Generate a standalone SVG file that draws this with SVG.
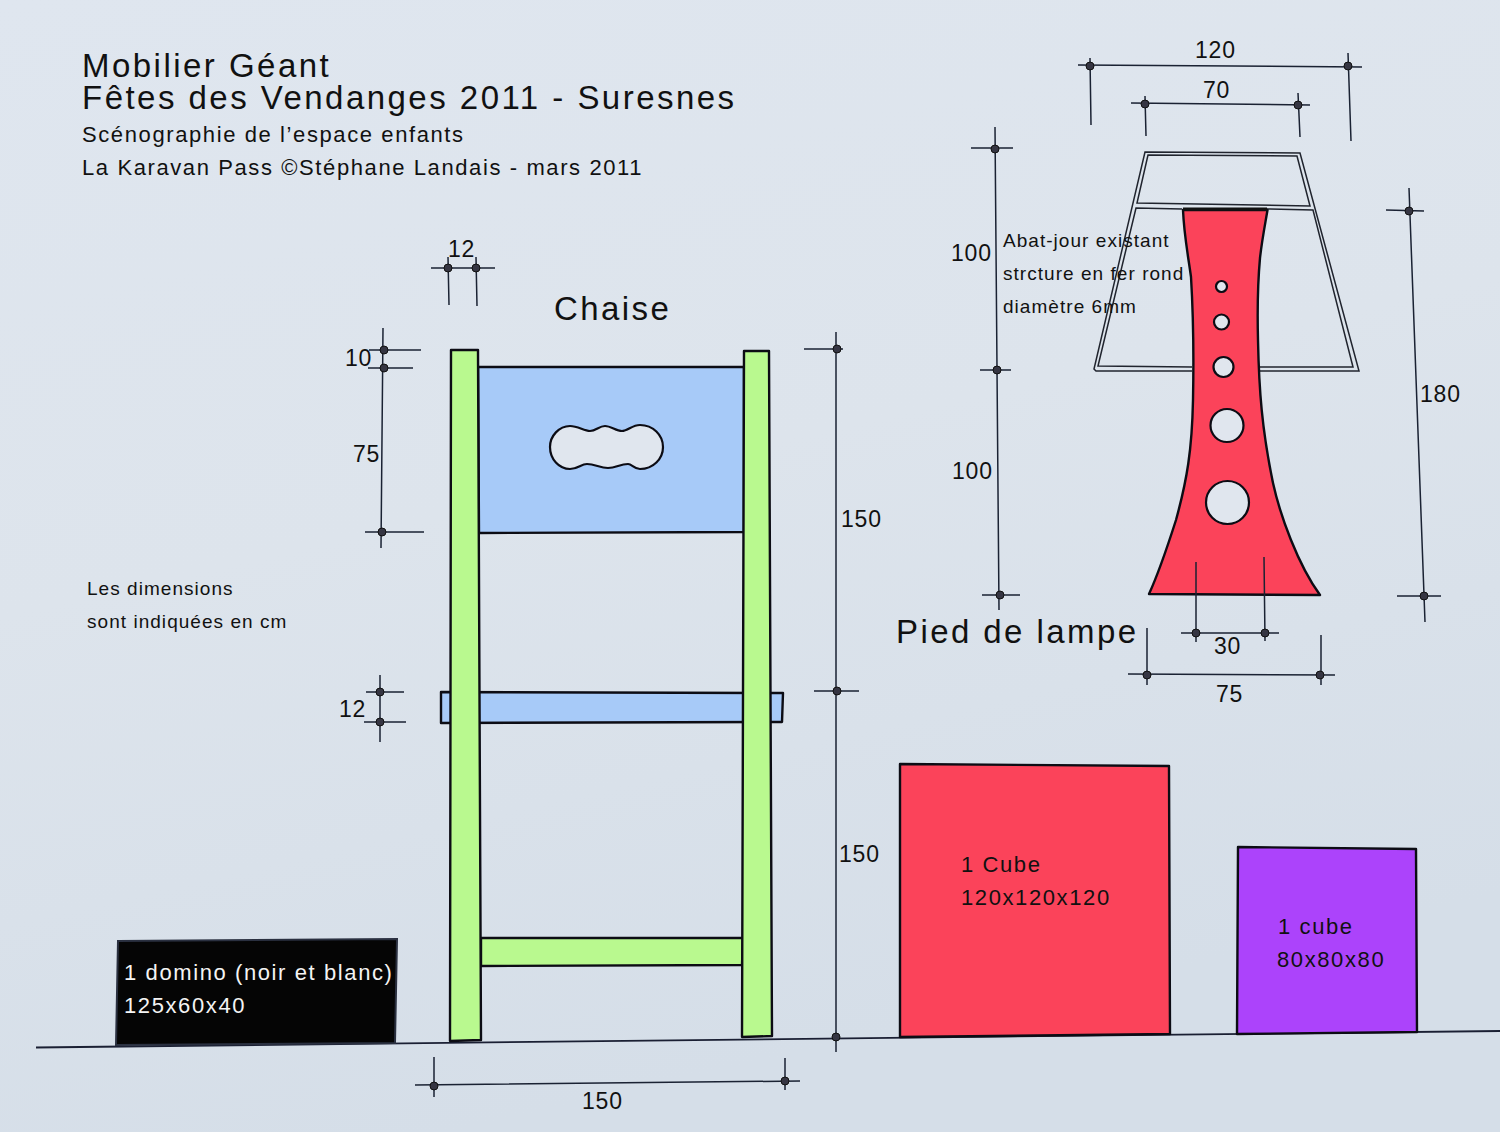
<svg xmlns="http://www.w3.org/2000/svg" width="1500" height="1132" viewBox="0 0 1500 1132">
<style>
text{font-family:"Liberation Sans",Arial,sans-serif;fill:#111}
.t1{font-size:33px;letter-spacing:2.47px}
.t2{font-size:22px;letter-spacing:1.6px}
.t3{font-size:19px;letter-spacing:1.04px}
.d{font-size:23px;letter-spacing:.8px}
.big{font-size:33px;letter-spacing:2.42px}
.c{font-size:22px;letter-spacing:1.6px}
.w{fill:#f4f4f4}
.dim{fill:none;stroke:#1a2233;stroke-width:1.5}
.dot{fill:#353542;stroke:#111;stroke-width:1}
.out{stroke:#0c0c14;stroke-width:2.4;stroke-linejoin:round}
.green{fill:#b9f98f}
.blue{fill:#a7caf8}
.red{fill:#fb435a}
.hole{fill:#e0e6ee;stroke:#0c0c14;stroke-width:2.2}
.wire{fill:none;stroke:#20242e;stroke-width:1.5}
</style>
<defs>
<linearGradient id="bg" x1="0" y1="0" x2="0.3" y2="1">
<stop offset="0" stop-color="#dfe6ef"/>
<stop offset="0.5" stop-color="#dde4ec"/>
<stop offset="1" stop-color="#d5dee8"/>
</linearGradient>
<circle id="p" class="dot" r="4"/>
</defs>
<rect width="1500" height="1132" fill="url(#bg)"/>

<g id="title">
<text class="t1" x="82" y="77">Mobilier Géant</text>
<text class="t1" x="82" y="109">Fêtes des Vendanges 2011 - Suresnes</text>
<text class="t2" x="82" y="142">Scénographie de l’espace enfants</text>
<text class="t2" x="82" y="175">La Karavan Pass ©Stéphane Landais - mars 2011</text>
</g>
<g id="note">
<text class="t3" x="87" y="595">Les dimensions</text>
<text class="t3" x="87" y="628">sont indiquées en cm</text>
</g>

<g id="ground"><path d="M36 1047.500L1500 1031" fill="none" stroke="#1a1f33" stroke-width="1.800"/></g>

<g id="domino">
<path d="M118 941L397 939L395 1043L116 1045Z" fill="#050505" stroke="#2a3040" stroke-width="2"/>
<text class="c w" x="124" y="980">1 domino (noir et blanc)</text>
<text class="c w" x="124" y="1013">125x60x40</text>
</g>

<g id="chaise">
<text class="big" x="554" y="320">Chaise</text>
<path class="blue out" d="M478 367L744 367L744 532L479 533Z"/>
<path class="hole" d="M570 426C578 426 584 431 590 431C596 431 599 426 605 426C611 426 616 431 622 431C628 431 632 425 640 425C653 425 663 435 663 447C663 459 653 469 640 469C634 469 632 464 628 464C620 464 616 468 608 468C600 468 595 464 587 464C581 464 578 469 570 469C559 469 550 459 550 447C550 436 559 426 570 426Z"/>
<path class="blue out" d="M441 692L783 693L782 722L441 723Z"/>
<path class="green out" d="M481 938L743 938L742 965L481 966Z"/>
<path class="green out" d="M451 350L478 350L481 1040L450 1041Z"/>
<path class="green out" d="M744 351L769 351L772 1036L742 1037Z"/>
</g>

<g id="lampe">
<path class="wire" d="M1192 371L1096 371L1094 369L1145 152L1300 153L1359 371L1260 371"/>
<path class="wire" d="M1148 155L1297 156L1310 206L1137 203Z"/>
<path class="wire" d="M1182 209L1136 208L1098 366L1192 367M1267 209L1313 210L1353 367L1260 367"/>
<path class="red out" d="M1183 210L1267.500 210C1265 225 1262 240 1260 258C1258 280 1257 300 1258 340C1259 390 1262 430 1273 483C1280 515 1298 565 1320 595L1149 594C1160 570 1168 545 1176 520C1187 480 1192 450 1193 400C1194 350 1193 310 1191 277C1188 255 1184 235 1183 210Z"/>
<path d="M1183 209L1267 209" stroke="#111" stroke-width="3"/>
<circle class="hole" cx="1221.500" cy="286.500" r="5.500"/>
<circle class="hole" cx="1221.500" cy="322" r="7.500"/>
<circle class="hole" cx="1223.500" cy="367" r="10"/>
<circle class="hole" cx="1227" cy="425.500" r="16.500"/>
<circle class="hole" cx="1227.500" cy="502.500" r="21.500"/>
<text class="big" x="896" y="643">Pied de lampe</text>
<text class="t3" x="1003" y="247">Abat-jour existant</text>
<text class="t3" x="1003" y="280">strcture en fer rond</text>
<text class="t3" x="1003" y="313">diamètre 6mm</text>
</g>

<g id="cube-rouge">
<path class="red out" d="M900 764L1169 766L1170 1034L900 1037Z"/>
<text class="c" x="961" y="872">1 Cube</text>
<text class="c" x="961" y="905">120x120x120</text>
</g>

<g id="cube-violet">
<path fill="#ac43fb" class="out" d="M1238 847L1416 849L1417 1032L1237 1034Z"/>
<text class="c" x="1278" y="934">1 cube</text>
<text class="c" x="1277" y="967">80x80x80</text>
</g>

<g id="connectors">
<path class="dim" d="M1078 65L1362 67M1090 58L1091 125M1348 53L1351 141"/>
<use href="#p" x="1090" y="66"/><use href="#p" x="1348" y="66"/>
<path class="dim" d="M1131 103L1310 105M1145 96L1146 136M1298 93L1300 137"/>
<use href="#p" x="1145" y="104"/><use href="#p" x="1298" y="105"/>
<path class="dim" d="M971 148L1013 148M995 127L999 610M980 370L1011 370M982 595L1020 595"/>
<use href="#p" x="995" y="149"/><use href="#p" x="997" y="370"/><use href="#p" x="1000" y="595"/>
<path class="dim" d="M1386 210L1424 211M1409 188L1425 622M1397 596L1441 596"/>
<use href="#p" x="1409" y="211"/><use href="#p" x="1424" y="596"/>
<path class="dim" d="M1181 633L1279 633M1196 562L1196 642M1264 557L1265 641"/>
<use href="#p" x="1196" y="633"/><use href="#p" x="1265" y="633"/>
<path class="dim" d="M1128 674L1335 675M1147 628L1147 685M1321 635L1321 685"/>
<use href="#p" x="1147" y="675"/><use href="#p" x="1320" y="675"/>
<path class="dim" d="M431 268L495 268M448 257L449 305M476 257L477 306"/>
<use href="#p" x="448" y="268"/><use href="#p" x="476" y="268"/>
<path class="dim" d="M369 350L421 350M368 368L413 368M383 328L381 548M365 532L424 532"/>
<use href="#p" x="384" y="350"/><use href="#p" x="384" y="368"/><use href="#p" x="382" y="532"/>
<path class="dim" d="M366 692L404 692M364 722L406 722M380 675L380 742"/>
<use href="#p" x="380" y="692"/><use href="#p" x="380" y="722"/>
<path class="dim" d="M804 349L843 349M836 332L836 1052M814 691L859 691"/>
<use href="#p" x="837" y="349"/><use href="#p" x="837" y="691"/><use href="#p" x="836" y="1037"/>
<path class="dim" d="M415 1085L800 1081M434 1057L434 1097M785 1058L785 1090"/>
<use href="#p" x="434" y="1086"/><use href="#p" x="785" y="1081"/>
</g>

<g id="cotes">
<text class="d" x="1195" y="58">120</text>
<text class="d" x="1203" y="98">70</text>
<text class="d" x="951" y="261">100</text>
<text class="d" x="952" y="479">100</text>
<text class="d" x="1420" y="402">180</text>
<text class="d" x="1214" y="654">30</text>
<text class="d" x="1216" y="702">75</text>
<text class="d" x="448" y="257">12</text>
<text class="d" x="345" y="366">10</text>
<text class="d" x="353" y="462">75</text>
<text class="d" x="339" y="717">12</text>
<text class="d" x="841" y="527">150</text>
<text class="d" x="839" y="862">150</text>
<text class="d" x="582" y="1109">150</text>
</g>
</svg>
